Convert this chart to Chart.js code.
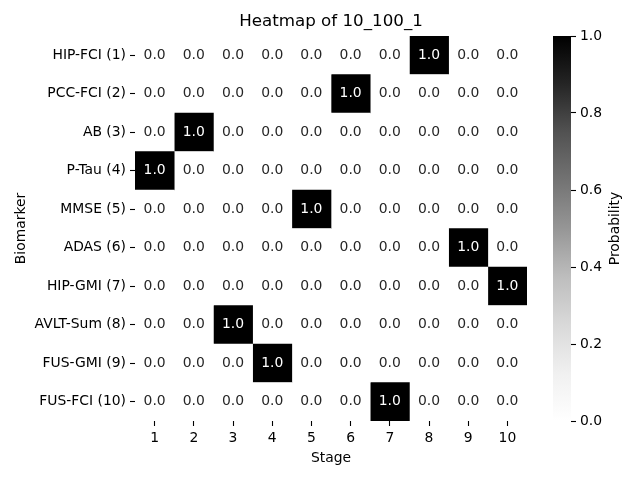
<!DOCTYPE html>
<html>
<head>
<meta charset="utf-8">
<script src="https://cdn.jsdelivr.net/npm/chart.js@4/dist/chart.umd.min.js"></script>
<style>
  html, body { margin: 0; padding: 0; background: #fff; }
  #wrap { position: relative; width: 640px; height: 480px; }
  canvas { position: absolute; left: 0; top: 0; }
</style>
</head>
<body>
<div id="wrap">
  <canvas id="main" width="640" height="480"></canvas>
  <canvas id="cbar" width="640" height="480"></canvas>
</div>
<script>
// ---- Data ----
const titleText = 'Heatmap of 10_100_1';
const biomarkers = ['HIP-FCI (1)', 'PCC-FCI (2)', 'AB (3)', 'P-Tau (4)', 'MMSE (5)',
                    'ADAS (6)', 'HIP-GMI (7)', 'AVLT-Sum (8)', 'FUS-GMI (9)', 'FUS-FCI (10)'];
const stages = [1, 2, 3, 4, 5, 6, 7, 8, 9, 10];
// probabilities[row = biomarker][col = stage]
const probabilities = [
  [0, 0, 0, 0, 0, 0, 0, 1, 0, 0],
  [0, 0, 0, 0, 0, 1, 0, 0, 0, 0],
  [0, 1, 0, 0, 0, 0, 0, 0, 0, 0],
  [1, 0, 0, 0, 0, 0, 0, 0, 0, 0],
  [0, 0, 0, 0, 1, 0, 0, 0, 0, 0],
  [0, 0, 0, 0, 0, 0, 0, 0, 1, 0],
  [0, 0, 0, 0, 0, 0, 0, 0, 0, 1],
  [0, 0, 1, 0, 0, 0, 0, 0, 0, 0],
  [0, 0, 0, 1, 0, 0, 0, 0, 0, 0],
  [0, 0, 0, 0, 0, 0, 1, 0, 0, 0]
];
const colorbarTicks = [0, 0.2, 0.4, 0.6, 0.8, 1.0];
const colorbarRange = [0, 1];

// ---- Styles ----
const FONT = '"DejaVu Sans", "Liberation Sans", sans-serif';
const FS = 13.9;
// matplotlib "Greys" colormap stops
const greysStops = [
  [0.0, 255], [0.125, 240], [0.25, 217], [0.375, 189], [0.5, 150],
  [0.625, 115], [0.75, 82], [0.875, 37], [1.0, 0]
];
function greys(v) {
  v = Math.max(0, Math.min(1, v));
  for (let k = 1; k < greysStops.length; k++) {
    const [p1, g1] = greysStops[k];
    if (v <= p1) {
      const [p0, g0] = greysStops[k - 1];
      const g = Math.round(g0 + (g1 - g0) * (v - p0) / (p1 - p0));
      return `rgb(${g},${g},${g})`;
    }
  }
  return 'rgb(0,0,0)';
}

Chart.defaults.font.family = FONT;
Chart.defaults.font.size = FS;
Chart.defaults.color = '#000';

// ---- Main heatmap ----
const annotPlugin = {
  id: 'annot',
  afterDatasetsDraw(chart) {
    const ctx = chart.ctx;
    ctx.save();
    ctx.font = `${FS}px ${FONT}`;
    ctx.textAlign = 'center';
    ctx.textBaseline = 'middle';
    chart.data.datasets.forEach((ds, j) => {
      const meta = chart.getDatasetMeta(j);
      meta.data.forEach((bar, i) => {
        const v = probabilities[i][j];
        const p = bar.getProps(['x', 'y', 'base'], true);
        ctx.fillStyle = v > 0.5 ? '#ffffff' : '#262626';
        ctx.fillText(v.toFixed(1), (p.x + p.base) / 2, p.y);
      });
    });
    ctx.restore();
  }
};

const datasets = stages.map((s, j) => ({
  label: 'Stage ' + s,
  data: biomarkers.map(() => [s - 0.5, s + 0.5]),
  backgroundColor: (c) => greys(probabilities[c.dataIndex][j]),
  borderWidth: 0,
  barPercentage: 1,
  categoryPercentage: 1,
  grouped: false
}));

new Chart(document.getElementById('main'), {
  type: 'bar',
  data: { labels: biomarkers, datasets },
  options: {
    indexAxis: 'y',
    responsive: false,
    animation: false,
    devicePixelRatio: 1,
    layout: { padding: { left: 0, right: 113, top: 0, bottom: 0 } },
    plugins: {
      legend: { display: false },
      tooltip: { enabled: false },
      title: {
        display: true,
        text: titleText,
        fullSize: false,
        color: '#000',
        font: { size: 16.7, weight: 'normal', family: FONT },
        padding: { top: 12, bottom: 4 }
      }
    },
    scales: {
      y: {
        type: 'category',
        position: 'left',
        afterFit(scale) { scale.width = 135; },
        border: { display: false },
        grid: { offset: false, drawOnChartArea: false, drawTicks: true, tickLength: 5, tickWidth: 1.1, color: '#000' },
        ticks: { padding: 4, color: '#000', font: { size: FS } },
        title: { display: true, text: 'Biomarker', color: '#000', font: { size: FS }, padding: { top: 13, bottom: 0 } }
      },
      x: {
        type: 'linear',
        position: 'bottom',
        min: stages[0] - 0.5,
        max: stages[stages.length - 1] + 0.5,
        afterBuildTicks(scale) { scale.ticks = stages.map(v => ({ value: v })); },
        afterFit(scale) { scale.height = 59; },
        border: { display: false },
        grid: { drawOnChartArea: false, drawTicks: true, tickLength: 5, tickWidth: 1.1, color: '#000' },
        ticks: { padding: 4, color: '#000', font: { size: FS }, callback: (v) => String(v), maxRotation: 0, autoSkip: false },
        title: { display: true, text: 'Stage', color: '#000', font: { size: FS }, padding: { top: 0, bottom: 13 } }
      }
    }
  },
  plugins: [annotPlugin]
});

// ---- Colorbar ----
function cbGradient(c) {
  const chart = c.chart;
  const area = chart.chartArea;
  if (!area) return '#888';
  const ys = chart.scales.y;
  const top = ys.getPixelForValue(colorbarRange[1]);
  const bottom = ys.getPixelForValue(colorbarRange[0]);
  const g = chart.ctx.createLinearGradient(0, bottom, 0, top);
  greysStops.forEach(([p]) => g.addColorStop(p, greys(p)));
  return g;
}

const cbTitlePlugin = {
  id: 'cbTitle',
  afterDraw(chart) {
    const ctx = chart.ctx;
    const a = chart.chartArea;
    ctx.save();
    ctx.font = `${FS}px ${FONT}`;
    ctx.fillStyle = '#000';
    ctx.textAlign = 'center';
    ctx.textBaseline = 'middle';
    ctx.translate(615, (a.top + a.bottom) / 2);
    ctx.rotate(-Math.PI / 2);
    ctx.fillText('Probability', 0, 0);
    ctx.restore();
  }
};

new Chart(document.getElementById('cbar'), {
  type: 'bar',
  data: {
    labels: ['Probability'],
    datasets: [{
      data: [colorbarRange],
      backgroundColor: cbGradient,
      borderWidth: 0,
      barPercentage: 1,
      categoryPercentage: 1
    }]
  },
  options: {
    responsive: false,
    animation: false,
    devicePixelRatio: 1,
    layout: { padding: { left: 553, right: 0, top: 36, bottom: 59 } },
    plugins: { legend: { display: false }, tooltip: { enabled: false }, title: { display: false } },
    scales: {
      x: { display: false },
      y: {
        position: 'right',
        min: colorbarRange[0],
        max: colorbarRange[1],
        afterBuildTicks(scale) { scale.ticks = colorbarTicks.map(v => ({ value: v })); },
        afterFit(scale) { scale.width = 69; },
        border: { display: false },
        grid: { drawOnChartArea: false, drawTicks: true, tickLength: 5, tickWidth: 1.1, color: '#000' },
        ticks: { padding: 4, color: '#000', font: { size: FS }, callback: (v) => Number(v).toFixed(1) }
      }
    }
  },
  plugins: [cbTitlePlugin]
});
</script>
</body>
</html>
